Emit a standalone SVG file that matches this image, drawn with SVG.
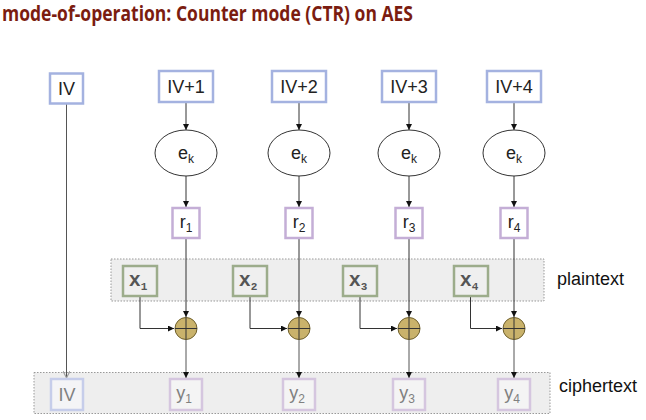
<svg xmlns="http://www.w3.org/2000/svg" width="646" height="420" viewBox="0 0 646 420">
<style>
.t{font-family:"Liberation Sans",Arial,sans-serif;font-size:18px;fill:#222;text-anchor:middle}
.sub{font-size:12px}
.top{fill:#fff;stroke:#a4b2e0;stroke-width:2.5}
.rb{fill:#fff;stroke:#c4aed6;stroke-width:2.5}
.xb{fill:#efefef;stroke:#9cac8b;stroke-width:2.5}
.xt{font-family:"Liberation Mono","Courier New",monospace;font-weight:bold;font-size:20px;fill:#555;text-anchor:middle}
.band{fill:#eeeeee;stroke:#999;stroke-width:1;stroke-dasharray:1.5 1.5}
.enc{fill:#fff;stroke:#333;stroke-width:1}
.xor{fill:#c9b26b;stroke:#6e5f2c;stroke-width:1}
.bot{fill:#f4f4f6;stroke:#c6cdea;stroke-width:2.5}
.ybox{fill:#f4f4f4;stroke:#d5c6df;stroke-width:2.5}
.ft{fill:#808080}
.c{fill:none;stroke:#333;stroke-width:1}
.cg{fill:none;stroke:#555;stroke-width:1}
.lbl{font-family:"Liberation Sans",Arial,sans-serif;font-size:18px;fill:#111}
</style>
<defs>
<marker id="ah" viewBox="0 0 10 10" refX="10" refY="5" markerWidth="6" markerHeight="6" orient="auto" markerUnits="userSpaceOnUse">
<path d="M0,0 L10,5 L0,10 z" fill="#111"/>
</marker>
<marker id="ahg" viewBox="0 0 10 10" refX="10" refY="5" markerWidth="7" markerHeight="7" orient="auto" markerUnits="userSpaceOnUse">
<path d="M0,0 L10,5 L0,10" fill="none" stroke="#999" stroke-width="1.5"/>
</marker>
</defs>
<rect width="646" height="420" fill="#fff"/>
<text x="2" y="21" font-family="'Open Sans','Liberation Sans',sans-serif" font-weight="bold" font-size="21" fill="#7b1c10" textLength="411" lengthAdjust="spacingAndGlyphs">mode-of-operation: Counter mode (CTR) on AES</text>

<g id="plaintext-band"><rect class="band" x="111" y="259" width="433" height="42"/></g>
<g id="ciphertext-band"><rect class="band" x="34" y="372.5" width="516" height="41"/></g>
<text class="lbl" x="557" y="285">plaintext</text>
<text class="lbl" x="559" y="392">ciphertext</text>

<g id="connectors">
<line class="cg" x1="66.5" y1="104" x2="66.5" y2="378" marker-end="url(#ahg)"/>
<line class="c" x1="186" y1="102" x2="186" y2="130" marker-end="url(#ah)"/>
<line class="c" x1="186" y1="176" x2="186" y2="207" marker-end="url(#ah)"/>
<line class="c" x1="186" y1="239" x2="186" y2="317" marker-end="url(#ah)"/>
<polyline class="c" points="140,297 140,328.5 174,328.5" marker-end="url(#ah)"/>
<line class="cg" x1="186" y1="339.5" x2="186" y2="378" marker-end="url(#ah)"/>
<line class="c" x1="299" y1="102" x2="299" y2="130" marker-end="url(#ah)"/>
<line class="c" x1="299" y1="176" x2="299" y2="207" marker-end="url(#ah)"/>
<line class="c" x1="299" y1="239" x2="299" y2="317" marker-end="url(#ah)"/>
<polyline class="c" points="250,297 250,328.5 287,328.5" marker-end="url(#ah)"/>
<line class="cg" x1="299" y1="339.5" x2="299" y2="378" marker-end="url(#ah)"/>
<line class="c" x1="409" y1="102" x2="409" y2="130" marker-end="url(#ah)"/>
<line class="c" x1="409" y1="176" x2="409" y2="207" marker-end="url(#ah)"/>
<line class="c" x1="409" y1="239" x2="409" y2="317" marker-end="url(#ah)"/>
<polyline class="c" points="360,297 360,328.5 397,328.5" marker-end="url(#ah)"/>
<line class="cg" x1="409" y1="339.5" x2="409" y2="378" marker-end="url(#ah)"/>
<line class="c" x1="514" y1="102" x2="514" y2="130" marker-end="url(#ah)"/>
<line class="c" x1="514" y1="176" x2="514" y2="207" marker-end="url(#ah)"/>
<line class="c" x1="514" y1="239" x2="514" y2="317" marker-end="url(#ah)"/>
<polyline class="c" points="470.5,297 470.5,328.5 502,328.5" marker-end="url(#ah)"/>
<line class="cg" x1="514" y1="339.5" x2="514" y2="378" marker-end="url(#ah)"/>
</g>

<g id="iv"><rect class="top" x="50" y="73.5" width="33" height="30"/><text class="t" x="66.5" y="95">IV</text></g>
<g id="iv1"><rect class="top" x="159" y="71" width="54" height="31"/><text class="t" x="186" y="93">IV+1</text></g>
<g id="iv2"><rect class="top" x="272" y="71" width="54" height="31"/><text class="t" x="299" y="93">IV+2</text></g>
<g id="iv3"><rect class="top" x="382" y="71" width="54" height="31"/><text class="t" x="409" y="93">IV+3</text></g>
<g id="iv4"><rect class="top" x="487" y="71" width="54" height="31"/><text class="t" x="514" y="93">IV+4</text></g>

<g id="enc1"><ellipse class="enc" cx="186" cy="153" rx="31" ry="23"/><text class="t" x="186" y="159">e<tspan class="sub" dy="4">k</tspan></text></g>
<g id="enc2"><ellipse class="enc" cx="299" cy="153" rx="31" ry="23"/><text class="t" x="299" y="159">e<tspan class="sub" dy="4">k</tspan></text></g>
<g id="enc3"><ellipse class="enc" cx="409" cy="153" rx="31" ry="23"/><text class="t" x="409" y="159">e<tspan class="sub" dy="4">k</tspan></text></g>
<g id="enc4"><ellipse class="enc" cx="514" cy="153" rx="31" ry="23"/><text class="t" x="514" y="159">e<tspan class="sub" dy="4">k</tspan></text></g>

<g id="r1"><rect class="rb" x="172.5" y="208" width="27" height="30"/><text class="t" x="186" y="228">r<tspan class="sub" dy="4">1</tspan></text></g>
<g id="r2"><rect class="rb" x="285.5" y="208" width="27" height="30"/><text class="t" x="299" y="228">r<tspan class="sub" dy="4">2</tspan></text></g>
<g id="r3"><rect class="rb" x="395.5" y="208" width="27" height="30"/><text class="t" x="409" y="228">r<tspan class="sub" dy="4">3</tspan></text></g>
<g id="r4"><rect class="rb" x="500.5" y="208" width="27" height="30"/><text class="t" x="514" y="228">r<tspan class="sub" dy="4">4</tspan></text></g>

<g id="x1"><rect class="xb" x="123" y="266" width="34" height="30"/><text class="xt" x="138" y="286">x<tspan font-size="11" dy="4">1</tspan></text></g>
<g id="x2"><rect class="xb" x="233" y="266" width="34" height="30"/><text class="xt" x="248" y="286">x<tspan font-size="11" dy="4">2</tspan></text></g>
<g id="x3"><rect class="xb" x="343" y="266" width="34" height="30"/><text class="xt" x="358" y="286">x<tspan font-size="11" dy="4">3</tspan></text></g>
<g id="x4"><rect class="xb" x="454" y="266" width="34" height="30"/><text class="xt" x="469" y="286">x<tspan font-size="11" dy="4">4</tspan></text></g>

<g id="xor1"><circle class="xor" cx="186" cy="328.5" r="11"/><path class="c" d="M175,328.5 H197 M186,317.5 V339.5"/></g>
<g id="xor2"><circle class="xor" cx="299" cy="328.5" r="11"/><path class="c" d="M288,328.5 H310 M299,317.5 V339.5"/></g>
<g id="xor3"><circle class="xor" cx="409" cy="328.5" r="11"/><path class="c" d="M398,328.5 H420 M409,317.5 V339.5"/></g>
<g id="xor4"><circle class="xor" cx="514" cy="328.5" r="11"/><path class="c" d="M503,328.5 H525 M514,317.5 V339.5"/></g>

<g id="iv-out"><rect class="bot" x="51" y="379" width="32" height="31"/><text class="t ft" x="67" y="401">IV</text></g>
<g id="y1"><rect class="ybox" x="170" y="379" width="32" height="31"/><text class="t ft" x="184" y="399">y<tspan class="sub" dy="4">1</tspan></text></g>
<g id="y2"><rect class="ybox" x="283" y="379" width="32" height="31"/><text class="t ft" x="297" y="399">y<tspan class="sub" dy="4">2</tspan></text></g>
<g id="y3"><rect class="ybox" x="393" y="379" width="32" height="31"/><text class="t ft" x="407" y="399">y<tspan class="sub" dy="4">3</tspan></text></g>
<g id="y4"><rect class="ybox" x="498" y="379" width="32" height="31"/><text class="t ft" x="512" y="399">y<tspan class="sub" dy="4">4</tspan></text></g>
</svg>
